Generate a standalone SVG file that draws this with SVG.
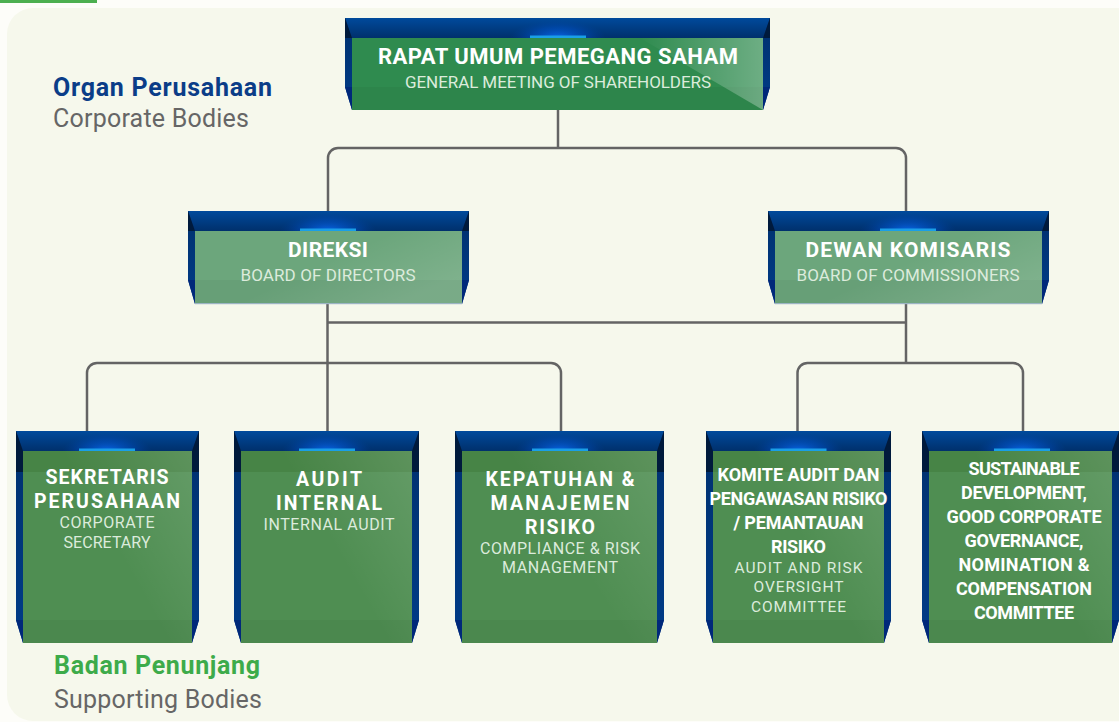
<svg xmlns="http://www.w3.org/2000/svg" width="1119" height="722" viewBox="0 0 1119 722">
<defs>
<linearGradient id="bandG" x1="0" y1="0" x2="0" y2="1"><stop offset="0" stop-color="#004a9c"/><stop offset="1" stop-color="#00306c"/></linearGradient>
<radialGradient id="glowG" cx="0.5" cy="0.5" r="0.5"><stop offset="0" stop-color="#0a6af0" stop-opacity="0.95"/><stop offset="0.6" stop-color="#0050c8" stop-opacity="0.45"/><stop offset="1" stop-color="#0040a0" stop-opacity="0"/></radialGradient>
<linearGradient id="sideG" x1="0" y1="0" x2="0" y2="1"><stop offset="0" stop-color="#00306e"/><stop offset="1" stop-color="#003c88"/></linearGradient>
<linearGradient id="sheenG" x1="0" y1="0" x2="1" y2="0.6"><stop offset="0.55" stop-color="#ffffff" stop-opacity="0"/><stop offset="1" stop-color="#ffffff" stop-opacity="0.12"/></linearGradient>
<linearGradient id="sheenB" x1="0.45" y1="0.35" x2="1" y2="0"><stop offset="0" stop-color="#ffffff" stop-opacity="0"/><stop offset="1" stop-color="#ffffff" stop-opacity="0.12"/></linearGradient>
<linearGradient id="topSheen" x1="0" y1="0" x2="1" y2="0"><stop offset="0" stop-color="#ffffff" stop-opacity="0"/><stop offset="1" stop-color="#ffffff" stop-opacity="0.3"/></linearGradient>
</defs>
<style>
.back{fill:url(#sideG)}
.band{fill:url(#bandG)}
.bevel{fill:#001a3c}
.foot{fill:#00287a}
.glow{fill:url(#glowG)}
.cyan{fill:#1a9fe8}
.g1{fill:#2f8b4f}
.g2{fill:#6ca67c}
.g3{fill:#4f8e52}
.shade{fill:#1e4a00;opacity:0.14}
.shadeLow{fill:#000;opacity:0.04}
.sheen{fill:url(#sheenG)}
.sheenB{fill:url(#sheenB)}
.edge{fill:#9cb4c4}
.conn{fill:none;stroke:#646464;stroke-width:2.5}
text{font-family:Roboto,"Liberation Sans",sans-serif;text-anchor:middle}
.t1{fill:#fff;font-weight:700;font-size:19.5px}
.t0{fill:#fff;font-weight:700;font-size:22px}
.tm{fill:#fff;font-weight:700;font-size:21px}
.t2{fill:#dcebdc;font-weight:400;font-size:16px}
.ts{fill:#dcebdc;font-weight:400;font-size:17px}
.t3{fill:#fff;font-weight:700;font-size:18px}
.t4{fill:#dcebdc;font-weight:400;font-size:15.5px}
.lbl{text-anchor:start;font-size:25px}
</style>
<rect x="0" y="0" width="1119" height="722" fill="#fdfdf9"/>
<rect x="7" y="8" width="1140" height="713" rx="26" fill="#f6f8ec"/>
<rect x="0" y="0" width="97" height="3" fill="#4caf50"/>

<g id="labels">
<text class="lbl" x="53" y="96" fill="#0b3d88" font-weight="700" textLength="219" lengthAdjust="spacing">Organ Perusahaan</text>
<text class="lbl" x="53" y="127" fill="#666666" font-weight="400" textLength="196" lengthAdjust="spacing">Corporate Bodies</text>
<text class="lbl" x="54" y="674" fill="#3dab4a" font-weight="700" textLength="206" lengthAdjust="spacing">Badan Penunjang</text>
<text class="lbl" x="54" y="708" fill="#666666" font-weight="400" textLength="208" lengthAdjust="spacing">Supporting Bodies</text>
</g>

<g id="connectors">
<path class="conn" d="M558,110 V148"/>
<path class="conn" d="M328,211 V158 A10,10 0 0 1 338,148 H896 A10,10 0 0 1 906,158 V211"/>
<path class="conn" d="M327.5,304 V431"/>
<path class="conn" d="M327.5,322.5 H906"/>
<path class="conn" d="M906,304 V363"/>
<path class="conn" d="M87,431 V373 A10,10 0 0 1 97,363 H551 A10,10 0 0 1 561,373 V431"/>
<path class="conn" d="M797.5,431 V373 A10,10 0 0 1 807.5,363 H1013 A10,10 0 0 1 1023,373 V431"/>
</g>

<g id="rups">
<polygon class="back" points="345,18 770,18 770,87 763,110 352,110 345,87"/>
<polygon class="band" points="345,18 770,18 763,38 352,38"/>
<polygon class="bevel" points="345,18 352,38 345,38"/>
<polygon class="bevel" points="770,18 763,38 770,38"/>
<polygon class="foot" points="345,87 352,87 352,110"/>
<polygon class="foot" points="770,87 763,87 763,110"/>
<ellipse class="glow" cx="558" cy="38" rx="48" ry="18"/>
<rect class="cyan" x="530" y="35.5" width="56" height="2.5"/>
<rect class="g1" x="352" y="38" width="411" height="72"/>
<rect class="shadeLow" x="352" y="87" width="411" height="23"/>
<polygon fill="url(#topSheen)" points="640,38 763,38 763,110"/>
<text class="t0" x="558" y="64" textLength="360" lengthAdjust="spacing">RAPAT UMUM PEMEGANG SAHAM</text>
<text class="ts" x="558" y="88" textLength="306" lengthAdjust="spacing">GENERAL MEETING OF SHAREHOLDERS</text>
</g>

<g id="direksi">
<polygon class="back" points="188,211 469,211 469,280 462,304 195,304 188,280"/>
<polygon class="band" points="188,211 469,211 462,231 195,231"/>
<polygon class="bevel" points="188,211 195,231 188,231"/>
<polygon class="bevel" points="469,211 462,231 469,231"/>
<polygon class="foot" points="188,280 195,280 195,304"/>
<polygon class="foot" points="469,280 462,280 462,304"/>
<ellipse class="glow" cx="328" cy="231" rx="48" ry="18"/>
<rect class="cyan" x="300" y="228.5" width="56" height="2.5"/>
<rect class="g2" x="195" y="231" width="267" height="73"/>
<rect class="shadeLow" x="195" y="280" width="267" height="24"/>
<rect class="sheen" x="195" y="231" width="267" height="73"/>
<rect class="edge" x="195" y="303" width="267" height="1.2"/>
<text class="tm" x="328" y="257" textLength="80" lengthAdjust="spacing">DIREKSI</text>
<text class="ts" x="328" y="281" textLength="175" lengthAdjust="spacing">BOARD OF DIRECTORS</text>
</g>

<g id="dewan-komisaris">
<polygon class="back" points="768,211 1049,211 1049,280 1042,304 775,304 768,280"/>
<polygon class="band" points="768,211 1049,211 1042,231 775,231"/>
<polygon class="bevel" points="768,211 775,231 768,231"/>
<polygon class="bevel" points="1049,211 1042,231 1049,231"/>
<polygon class="foot" points="768,280 775,280 775,304"/>
<polygon class="foot" points="1049,280 1042,280 1042,304"/>
<ellipse class="glow" cx="908" cy="231" rx="48" ry="18"/>
<rect class="cyan" x="880" y="228.5" width="56" height="2.5"/>
<rect class="g2" x="775" y="231" width="267" height="73"/>
<rect class="shadeLow" x="775" y="280" width="267" height="24"/>
<rect class="sheen" x="775" y="231" width="267" height="73"/>
<rect class="edge" x="775" y="303" width="267" height="1.2"/>
<text class="tm" x="908" y="257" textLength="205" lengthAdjust="spacing">DEWAN KOMISARIS</text>
<text class="ts" x="908" y="281" textLength="223" lengthAdjust="spacing">BOARD OF COMMISSIONERS</text>
</g>

<g id="sekretaris">
<polygon class="back" points="16,431 199,431 199,620 192,643 23,643 16,620"/>
<polygon class="band" points="16,431 199,431 192,451 23,451"/>
<polygon class="bevel" points="16,431 23,451 23,472 16,472"/>
<polygon class="bevel" points="199,431 192,451 192,472 199,472"/>
<polygon class="foot" points="16,620 23,620 23,643"/>
<polygon class="foot" points="199,620 192,620 192,643"/>
<ellipse class="glow" cx="107" cy="451" rx="45" ry="18"/>
<rect class="cyan" x="79" y="448.5" width="56" height="2.5"/>
<rect class="g3" x="23" y="451" width="169" height="192"/>
<rect class="shade" x="23" y="451" width="169" height="21"/>
<rect class="shadeLow" x="23" y="620" width="169" height="23"/>
<rect class="sheenB" x="23" y="451" width="169" height="192"/>
<text class="t1" x="107" y="484" textLength="123" lengthAdjust="spacing">SEKRETARIS</text>
<text class="t1" x="107" y="507.5" textLength="146" lengthAdjust="spacing">PERUSAHAAN</text>
<text class="t2" x="107" y="527.5" textLength="95" lengthAdjust="spacing">CORPORATE</text>
<text class="t2" x="107" y="547.5" textLength="87" lengthAdjust="spacing">SECRETARY</text>
</g>

<g id="audit-internal">
<polygon class="back" points="234,431 419,431 419,620 412,643 241,643 234,620"/>
<polygon class="band" points="234,431 419,431 412,451 241,451"/>
<polygon class="bevel" points="234,431 241,451 241,472 234,472"/>
<polygon class="bevel" points="419,431 412,451 412,472 419,472"/>
<polygon class="foot" points="234,620 241,620 241,643"/>
<polygon class="foot" points="419,620 412,620 412,643"/>
<ellipse class="glow" cx="327" cy="451" rx="45" ry="18"/>
<rect class="cyan" x="299" y="448.5" width="56" height="2.5"/>
<rect class="g3" x="241" y="451" width="171" height="192"/>
<rect class="shade" x="241" y="451" width="171" height="21"/>
<rect class="shadeLow" x="241" y="620" width="171" height="23"/>
<rect class="sheenB" x="241" y="451" width="171" height="192"/>
<text class="t1" x="329" y="486" textLength="66" lengthAdjust="spacing">AUDIT</text>
<text class="t1" x="329" y="509.5" textLength="106" lengthAdjust="spacing">INTERNAL</text>
<text class="t2" x="329" y="529.5" textLength="131" lengthAdjust="spacing">INTERNAL AUDIT</text>
</g>

<g id="kepatuhan">
<polygon class="back" points="455,431 664,431 664,620 657,643 462,643 455,620"/>
<polygon class="band" points="455,431 664,431 657,451 462,451"/>
<polygon class="bevel" points="455,431 462,451 462,472 455,472"/>
<polygon class="bevel" points="664,431 657,451 657,472 664,472"/>
<polygon class="foot" points="455,620 462,620 462,643"/>
<polygon class="foot" points="664,620 657,620 657,643"/>
<ellipse class="glow" cx="560" cy="451" rx="45" ry="18"/>
<rect class="cyan" x="532" y="448.5" width="56" height="2.5"/>
<rect class="g3" x="462" y="451" width="195" height="192"/>
<rect class="shade" x="462" y="451" width="195" height="21"/>
<rect class="shadeLow" x="462" y="620" width="195" height="23"/>
<rect class="sheenB" x="462" y="451" width="195" height="192"/>
<text class="t1" x="560" y="486" textLength="149" lengthAdjust="spacing">KEPATUHAN &amp;</text>
<text class="t1" x="560" y="510" textLength="139" lengthAdjust="spacing">MANAJEMEN</text>
<text class="t1" x="560" y="533.5" textLength="70" lengthAdjust="spacing">RISIKO</text>
<text class="t2" x="560" y="553.5" textLength="160" lengthAdjust="spacing">COMPLIANCE &amp; RISK</text>
<text class="t2" x="560" y="573" textLength="116" lengthAdjust="spacing">MANAGEMENT</text>
</g>

<g id="komite-audit">
<polygon class="back" points="706,431 891,431 891,620 884,643 713,643 706,620"/>
<polygon class="band" points="706,431 891,431 884,451 713,451"/>
<polygon class="bevel" points="706,431 713,451 713,472 706,472"/>
<polygon class="bevel" points="891,431 884,451 884,472 891,472"/>
<polygon class="foot" points="706,620 713,620 713,643"/>
<polygon class="foot" points="891,620 884,620 884,643"/>
<ellipse class="glow" cx="798.5" cy="451" rx="45" ry="18"/>
<rect class="cyan" x="770.5" y="448.5" width="56" height="2.5"/>
<rect class="g3" x="713" y="451" width="171" height="192"/>
<rect class="shade" x="713" y="451" width="171" height="21"/>
<rect class="shadeLow" x="713" y="620" width="171" height="23"/>
<rect class="sheenB" x="713" y="451" width="171" height="192"/>
<text class="t3" x="798.5" y="481" textLength="162" lengthAdjust="spacing">KOMITE AUDIT DAN</text>
<text class="t3" x="798.5" y="505" textLength="178" lengthAdjust="spacing">PENGAWASAN RISIKO</text>
<text class="t3" x="798.5" y="529" textLength="130" lengthAdjust="spacing">/ PEMANTAUAN</text>
<text class="t3" x="798.5" y="553" textLength="55" lengthAdjust="spacing">RISIKO</text>
<text class="t4" x="798.5" y="572.5" textLength="128" lengthAdjust="spacing">AUDIT AND RISK</text>
<text class="t4" x="798.5" y="592" textLength="90" lengthAdjust="spacing">OVERSIGHT</text>
<text class="t4" x="798.5" y="611.5" textLength="95" lengthAdjust="spacing">COMMITTEE</text>
</g>

<g id="sustainable">
<polygon class="back" points="922,431 1119,431 1119,620 1112,643 929,643 922,620"/>
<polygon class="band" points="922,431 1119,431 1112,451 929,451"/>
<polygon class="bevel" points="922,431 929,451 929,472 922,472"/>
<polygon class="bevel" points="1119,431 1112,451 1112,472 1119,472"/>
<polygon class="foot" points="922,620 929,620 929,643"/>
<polygon class="foot" points="1119,620 1112,620 1112,643"/>
<ellipse class="glow" cx="1022" cy="451" rx="45" ry="18"/>
<rect class="cyan" x="994" y="448.5" width="56" height="2.5"/>
<rect class="g3" x="929" y="451" width="183" height="192"/>
<rect class="shade" x="929" y="451" width="183" height="21"/>
<rect class="shadeLow" x="929" y="620" width="183" height="23"/>
<rect class="sheenB" x="929" y="451" width="183" height="192"/>
<text class="t3" x="1024" y="475" textLength="111" lengthAdjust="spacing">SUSTAINABLE</text>
<text class="t3" x="1024" y="499" textLength="126" lengthAdjust="spacing">DEVELOPMENT,</text>
<text class="t3" x="1024" y="523" textLength="155" lengthAdjust="spacing">GOOD CORPORATE</text>
<text class="t3" x="1024" y="547" textLength="119" lengthAdjust="spacing">GOVERNANCE,</text>
<text class="t3" x="1024" y="571" textLength="131" lengthAdjust="spacing">NOMINATION &amp;</text>
<text class="t3" x="1024" y="595" textLength="136" lengthAdjust="spacing">COMPENSATION</text>
<text class="t3" x="1024" y="619" textLength="100" lengthAdjust="spacing">COMMITTEE</text>
</g>
</svg>
